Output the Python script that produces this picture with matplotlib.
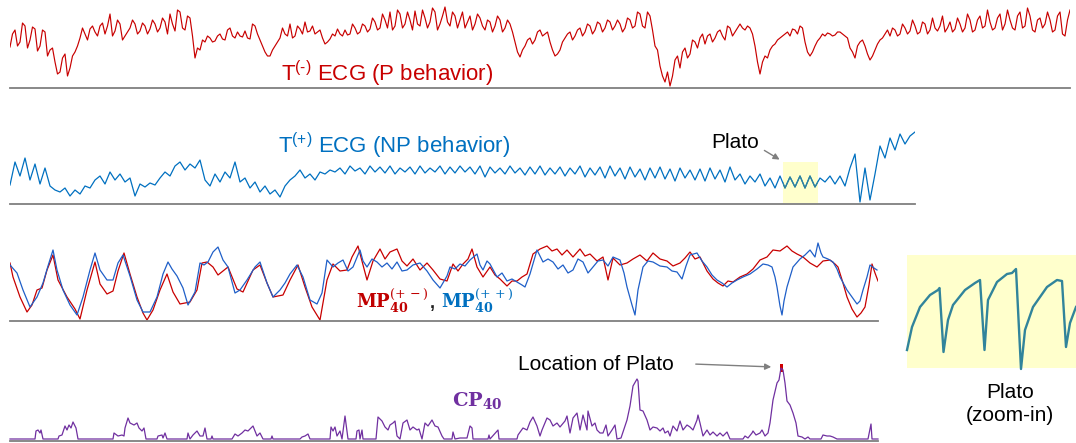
import numpy as np
import matplotlib
matplotlib.use('Agg')
import matplotlib.pyplot as plt
from matplotlib.patches import Rectangle

plt.rcParams['font.family'] = ['Liberation Sans', 'DejaVu Sans']
plt.rcParams['mathtext.fontset'] = 'custom'
plt.rcParams['mathtext.rm'] = 'Liberation Sans'
plt.rcParams['mathtext.it'] = 'Liberation Sans:italic'
plt.rcParams['mathtext.bf'] = 'Liberation Sans:bold'

# T(-) ECG, P behavior (uniform samples)
ecg_neg = [
    39, 52, 56, 40, 44, 63, 60, 38, 46, 59, 57, 35, 40, 56, 54, 30, 36, 38, 24, 12,
    14, 28, 32, 10, 18, 30, 34, 40, 48, 58, 52, 46, 57, 60, 54, 50, 60, 63, 52, 60,
    72, 50, 55, 66, 62, 46, 50, 54, 58, 66, 62, 52, 55, 63, 60, 52, 57, 66, 62, 54,
    58, 68, 64, 52, 72, 62, 55, 76, 74, 58, 56, 70, 68, 50, 28, 38, 36, 46, 44, 50,
    48, 44, 45, 50, 52, 47, 46, 56, 58, 50, 48, 54, 50, 49, 55, 48, 47, 62, 60, 52,
    46, 40, 34, 30, 30, 36, 40, 44, 48, 58, 52, 50, 62, 48, 50, 60, 57, 52, 64, 54,
    55, 60, 52, 54, 56, 48, 42, 44, 47, 52, 50, 57, 52, 50, 56, 51, 52, 62, 58, 52,
    54, 62, 60, 54, 57, 68, 64, 56, 58, 72, 66, 58, 74, 56, 60, 76, 72, 58, 62, 74,
    66, 56, 75, 62, 60, 76, 68, 58, 64, 78, 74, 56, 62, 70, 79, 64, 60, 74, 70, 58,
    66, 74, 58, 64, 70, 56, 62, 72, 68, 60, 56, 66, 64, 54, 60, 70, 66, 54, 58, 66,
    62, 54, 44, 34, 29, 36, 40, 46, 48, 42, 46, 54, 56, 50, 52, 54, 44, 36, 30, 32,
    36, 44, 48, 52, 54, 46, 50, 56, 58, 50, 54, 62, 60, 52, 56, 64, 62, 54, 58, 66,
    64, 56, 60, 66, 62, 54, 58, 68, 66, 58, 60, 74, 72, 60, 58, 74, 70, 56, 40, 36,
    20, 10, 4, 14, 0, 10, 26, 30, 18, 34, 38, 28, 32, 46, 44, 38, 48, 52, 42, 50,
    52, 44, 48, 54, 56, 50, 46, 60, 58, 50, 54, 58, 62, 58, 56, 60, 58, 52, 40, 24,
    12, 24, 30, 28, 36, 40, 42, 46, 48, 50, 52, 54, 50, 57, 56, 52, 60, 58, 44, 34,
    30, 34, 40, 45, 48, 52, 50, 53, 52, 50, 51, 54, 54, 52, 50, 48, 38, 34, 28, 40,
    44, 46, 40, 32, 26, 30, 36, 42, 46, 48, 52, 56, 50, 58, 56, 50, 52, 62, 58, 52,
    55, 66, 60, 52, 54, 64, 62, 52, 56, 68, 58, 55, 60, 70, 54, 58, 64, 54, 57, 68,
    62, 54, 58, 72, 66, 54, 56, 66, 70, 58, 60, 76, 64, 56, 58, 68, 72, 56, 62, 76,
    66, 58, 56, 70, 74, 58, 60, 78, 70, 56, 54, 66, 68, 58, 62, 74, 66, 54, 56, 70,
    74, 52, 50, 66, 76]

# T(+) ECG, NP behavior (uniform samples)
ecg_pos = [
    19, 42, 28, 46, 24, 40, 20, 36, 18, 14,
    12, 16, 8, 14, 10, 18, 16, 24, 28, 20,
    32, 24, 30, 22, 26, 8, 20, 17, 21, 19,
    26, 32, 28, 38, 42, 34, 40, 36, 44, 24,
    18, 30, 22, 32, 26, 42, 22, 26, 16, 22,
    12, 18, 10, 14, 7, 18, 24, 28, 34, 26,
    30, 24, 32, 30, 34, 32, 36, 30, 38, 33,
    36, 30, 38, 32, 37, 31, 38, 30, 36, 32,
    37, 30, 38, 31, 36, 32, 38, 30, 37, 31,
    38, 32, 37, 30, 38, 27, 37, 31, 36, 30,
    38, 31, 36, 29, 37, 30, 38, 29, 36, 30,
    37, 28, 36, 30, 38, 27, 36, 29, 37, 26,
    38, 28, 36, 25, 37, 27, 35, 24, 36, 26,
    37, 25, 35, 23, 36, 26, 34, 24, 35, 23,
    36, 25, 34, 22, 37, 24, 30, 20, 28, 22,
    30, 18, 26, 16, 28, 16, 27, 17, 28, 16,
    28, 17, 26, 22, 28, 20, 28, 18, 36, 50,
    2, 36, 4, 30, 58, 46, 66, 54, 70, 60,
    68, 72]
plato_span = (154.6, 161.6)   # sample range of the plato in ecg_pos

# MP40 (+-) and (++) : (time, value)
mp_red = [
    (10, 58), (13, 44), (20, 24), (27, 9), (32, 16), (37, 31), (42, 33), (47, 51), (53, 66), (58, 41),
    (67, 24), (75, 12), (80, 2), (87, 31), (95, 59), (100, 37), (107, 27), (113, 30), (118, 50), (124, 68),
    (130, 47), (137, 24), (143, 8), (147, 1), (153, 11), (160, 31), (167, 47), (173, 29), (180, 17), (190, 19),
    (197, 31), (202, 58), (207, 59), (213, 54), (218, 46), (223, 50), (228, 54), (237, 32), (243, 29), (248, 40),
    (253, 51), (260, 56), (267, 38), (273, 24), (283, 26), (290, 41), (298, 56), (305, 34), (312, 14), (320, 1),
    (327, 41), (333, 57), (340, 50), (347, 51), (352, 64), (358, 75), (362, 60), (367, 41), (373, 60), (380, 72),
    (385, 62), (390, 69), (397, 72), (402, 60), (407, 55), (413, 62), (420, 51), (427, 58), (433, 51), (440, 42),
    (447, 40), (453, 57), (458, 50), (463, 57), (468, 62), (472, 72), (477, 54), (483, 44), (490, 54), (495, 46),
    (500, 42), (507, 35), (512, 40), (517, 40), (522, 44), (527, 47), (533, 67), (540, 72), (547, 75), (552, 70),
    (557, 72), (562, 66), (567, 71), (573, 64), (580, 72), (585, 65), (590, 67), (597, 60), (603, 64), (608, 41),
    (613, 63), (620, 56), (627, 58), (633, 62), (640, 66), (647, 60), (653, 68), (660, 62), (667, 60), (673, 55),
    (680, 58), (685, 63), (690, 69), (695, 62), (700, 64), (707, 50), (713, 42), (718, 38), (723, 35), (728, 40),
    (733, 39), (740, 44), (747, 47), (753, 52), (760, 61), (767, 64), (773, 71), (780, 70), (787, 75), (792, 70),
    (797, 67), (803, 64), (810, 58), (817, 54), (823, 60), (830, 61), (835, 57), (838, 54), (843, 38), (847, 24),
    (852, 12), (857, 4), (861, 8), (865, 14), (869, 36), (872, 57), (875, 48), (878, 40)]

mp_blue = [
    (10, 56), (17, 48), (23, 31), (30, 14), (37, 24), (43, 38), (48, 55), (53, 71), (57, 51), (63, 31),
    (70, 16), (77, 6), (83, 24), (90, 51), (95, 68), (100, 51), (107, 41), (113, 41), (118, 58), (123, 66),
    (130, 45), (137, 21), (143, 9), (150, 9), (157, 24), (163, 47), (168, 59), (172, 52), (177, 45), (183, 33),
    (188, 16), (195, 29), (200, 58), (204, 56), (208, 59), (213, 69), (218, 74), (223, 61), (228, 54), (235, 28),
    (240, 31), (247, 41), (255, 54), (260, 59), (267, 38), (273, 24), (280, 31), (285, 38), (290, 47), (297, 56),
    (303, 44), (310, 21), (317, 17), (322, 28), (327, 61), (333, 54), (338, 58), (343, 61), (348, 50), (353, 54),
    (360, 71), (363, 60), (367, 54), (372, 62), (377, 59), (382, 54), (387, 58), (392, 52), (397, 59), (402, 50),
    (407, 51), (413, 56), (420, 58), (427, 50), (433, 41), (440, 33), (447, 45), (450, 54), (455, 52), (460, 57),
    (465, 55), (470, 61), (477, 67), (480, 56), (483, 51), (487, 60), (490, 57), (497, 44), (502, 48), (507, 40),
    (512, 42), (517, 39), (522, 36), (525, 34), (530, 47), (537, 71), (543, 59), (548, 62), (553, 59), (558, 52),
    (563, 56), (568, 48), (573, 51), (578, 62), (583, 59), (588, 48), (593, 54), (598, 60), (603, 61), (608, 55),
    (613, 64), (620, 61), (624, 48), (627, 34), (632, 16), (635, 6), (638, 31), (643, 54), (648, 60), (653, 59),
    (660, 55), (667, 54), (672, 50), (677, 49), (682, 42), (686, 55), (690, 66), (697, 68), (702, 60), (707, 54),
    (712, 46), (717, 41), (722, 38), (727, 34), (732, 38), (737, 41), (743, 44), (750, 47), (757, 52), (763, 57),
    (768, 56), (772, 54), (775, 44), (777, 34), (780, 15), (782, 6), (784, 20), (787, 34), (793, 54), (800, 62),
    (805, 66), (810, 71), (815, 64), (818, 78), (821, 68), (823, 64), (828, 62), (833, 59), (837, 52), (840, 44),
    (847, 31), (852, 24), (857, 17), (860, 20), (863, 31), (867, 44), (870, 56), (874, 53), (877, 51)]

# CP40 : (time, value)
cp = [
    (10, 0), (35, 0), (36, 8), (38, 9), (40, 6), (41, 9), (43, 0),
    (58, 0), (59, 3), (62, 4), (65, 13), (67, 9), (69, 14), (71, 11), (73, 17), (76, 11), (78, 0),
    (113, 0), (114, 6), (118, 3), (122, 4), (124, 3), (125, 11), (128, 21), (130, 16), (132, 15),
    (134, 14), (137, 16), (139, 11), (142, 8), (144, 11), (146, 0),
    (157, 0), (158, 3), (162, 4), (163, 1), (165, 6), (167, 0),
    (187, 0), (188, 6), (190, 0), (193, 4), (197, 8), (200, 3), (203, 3), (205, 11), (207, 0),
    (211, 0), (212, 3), (213, 0),
    (232, 0), (235, 5), (238, 3), (242, 6), (245, 9), (248, 8), (251, 11), (253, 13), (255, 8),
    (257, 3), (260, 6), (263, 0), (271, 0), (272, 3), (273, 0),
    (300, 0), (302, 2), (305, 3), (308, 5), (310, 0),
    (330, 0), (331, 12), (333, 8), (335, 12), (337, 3), (340, 8), (342, 0), (345, 23), (348, 0),
    (356, 0), (357, 8), (359, 9), (360, 0), (362, 9), (363, 0),
    (376, 0), (378, 22), (382, 18), (385, 12), (388, 9), (390, 14), (393, 16), (395, 18), (397, 3),
    (400, 0), (403, 16), (407, 19), (410, 9), (413, 12), (417, 9), (419, 10), (422, 0),
    (425, 16), (428, 13), (432, 19), (435, 13), (438, 12), (442, 3), (444, 0),
    (452, 0), (453, 7), (455, 0), (460, 1), (467, 1), (470, 13), (472, 11), (473, 0),
    (488, 0), (489, 4), (490, 0), (498, 9), (499, 0),
    (517, 0), (518, 4), (523, 11), (527, 9), (530, 17), (533, 22), (537, 13), (540, 3), (542, 9),
    (547, 21), (550, 19), (553, 13), (557, 16), (560, 12), (565, 18), (567, 23), (570, 6), (573, 21),
    (577, 26), (580, 9), (583, 24), (587, 9), (588, 28), (592, 13), (595, 16), (597, 9), (600, 6),
    (603, 6), (606, 14), (608, 3), (612, 9), (615, 14), (617, 0),
    (621, 1), (627, 19), (630, 33), (633, 53), (637, 60), (638, 58), (640, 29), (643, 28), (647, 19),
    (650, 9), (653, 12), (657, 11), (660, 8), (663, 11), (665, 6), (668, 8), (670, 3), (673, 13),
    (677, 8), (680, 18), (683, 9), (687, 14), (690, 12), (693, 9), (697, 19), (698, 24), (700, 16),
    (703, 3), (707, 9), (710, 4), (713, 7), (717, 3), (720, 6), (723, 3), (727, 7), (730, 0),
    (743, 0), (745, 3), (748, 1), (752, 6), (753, 8), (756, 4), (760, 6), (762, 9), (765, 3), (768, 6),
    (770, 16), (773, 39), (777, 56), (779, 59), (781, 71), (783, 69), (785, 56), (787, 38), (790, 34),
    (793, 26), (796, 16), (798, 3), (802, 2), (805, 0), (808, 2), (810, 0),
    (821, 0), (823, 4), (827, 3), (830, 3), (833, 2), (837, 0),
    (868, 0), (871, 15), (872, 0), (878, 0)]
plato_loc = 781

# plato close-up
zoom_t = [0, 5, 13, 23, 31, 32.5, 36.5, 41, 46, 58, 68, 73, 77.5,
          81, 90, 100, 105, 109, 114, 118, 126, 140, 150, 155, 159, 163, 169]
zoom_v = [18, 41, 61, 73, 78, 80, 16, 48, 63, 78, 85, 88, 18,
          68, 86, 94, 95, 99, -1, 38, 61, 81, 88, 87, 21, 45, 61]

RED = '#C80000'
BLUE = '#0070C0'
MP_BLUE = '#1F5FC8'
PURPLE = '#7030A0'
TEAL = '#31849B'
GRAY = '#7F7F7F'
YELLOW = '#FFFFCC'

W, H = 1076, 443
fig = plt.figure(figsize=(W / 100, H / 100), dpi=100)


def panel(x0, y0, x1, y1):
    ax = fig.add_axes([x0 / W, 1 - y1 / H, (x1 - x0) / W, (y1 - y0) / H])
    ax.axis('off')
    return ax


# T(-) ECG
ax1 = panel(10, 3, 1070, 88)
ax1.plot(np.arange(len(ecg_neg)), ecg_neg, color=RED, lw=0.85)
ax1.set_xlim(0, len(ecg_neg) - 1)
ax1.set_ylim(-2, 83)
ax1.axhline(-2, color=GRAY, lw=1.3, clip_on=False)

# T(+) ECG
ax2 = panel(10, 120, 915, 204)
box = Rectangle((plato_span[0], 1), plato_span[1] - plato_span[0], 41,
                facecolor=YELLOW, edgecolor='none', zorder=0)
ax2.add_patch(box)
t2 = np.arange(len(ecg_pos))
ax2.plot(t2, ecg_pos, color=BLUE, lw=0.9, zorder=2)
hl, = ax2.plot(t2, ecg_pos, color=TEAL, lw=0.9, zorder=3)
hl.set_clip_path(box)
ax2.set_xlim(0, len(ecg_pos) - 1)
ax2.set_ylim(0, 84)
ax2.axhline(0, color=GRAY, lw=1.3, clip_on=False)

# MP40
ax3 = panel(10, 238, 878, 321)
t, v = zip(*mp_red)
ax3.plot(t, v, color=RED, lw=0.9)
t, v = zip(*mp_blue)
ax3.plot(t, v, color=MP_BLUE, lw=0.9)
ax3.set_xlim(10, 878)
ax3.set_ylim(0, 83)
ax3.axhline(0, color=GRAY, lw=1.3, clip_on=False)

# CP40
ax4 = panel(10, 355, 878, 439)
t, v = zip(*cp)
ax4.plot(t, v, color=PURPLE, lw=0.9, clip_on=False)
ax4.add_patch(Rectangle((plato_loc - 1.5, 67), 3.5, 8, facecolor='#D00000', edgecolor='none'))
ax4.set_xlim(10, 878)
ax4.set_ylim(0, 84)
ax4.axhline(-1.5, color=GRAY, lw=1.3, clip_on=False)

# plato zoom-in
ax5 = panel(907, 255, 1076, 368)
ax5.add_patch(Rectangle((0, 0), 1, 1, transform=ax5.transAxes, facecolor=YELLOW,
                        edgecolor='none', zorder=0))
ax5.plot(zoom_t, zoom_v, color=TEAL, lw=1.7, clip_on=False)
ax5.set_xlim(0, 169)
ax5.set_ylim(0, 113)

# text overlay in pixel coordinates
ov = fig.add_axes([0, 0, 1, 1])
ov.set_xlim(0, W)
ov.set_ylim(H, 0)
ov.axis('off')

ov.text(281, 81, r'T$^{\text{(-)}}$ ECG (P behavior)', color=RED, fontsize=16, va='baseline')
ov.text(278, 153, r'T$^{\text{(+)}}$ ECG (NP behavior)', color=BLUE, fontsize=16, va='baseline')
ov.text(735, 142, 'Plato', fontsize=15, ha='center', va='center')
ov.annotate('', xy=(782, 161), xytext=(762, 149),
            arrowprops=dict(arrowstyle='-|>', color=GRAY, lw=1, mutation_scale=9))

ov.text(356, 308, r'$\mathbf{MP}_{\mathbf{40}}^{(+\,-)}$', color='#C00000', fontsize=13,
        va='baseline', math_fontfamily='dejavuserif')
ov.text(430, 308, ',', color='#202020', fontsize=13, va='baseline', fontweight='bold')
ov.text(441, 308, r'$\mathbf{MP}_{\mathbf{40}}^{(+\,+)}$', color=BLUE, fontsize=13,
        va='baseline', math_fontfamily='dejavuserif')

ov.text(452, 406, r'$\mathbf{CP}_{\mathbf{40}}$', color=PURPLE, fontsize=14,
        va='baseline', math_fontfamily='dejavuserif')
ov.text(518, 365, 'Location of Plato', fontsize=15, va='center')
ov.annotate('', xy=(774, 367), xytext=(693, 364),
            arrowprops=dict(arrowstyle='-|>', color=GRAY, lw=1, mutation_scale=9))

ov.text(1010, 404, 'Plato\n(zoom-in)', fontsize=15, ha='center', va='center', linespacing=1.3)

fig.savefig('out.png', dpi=100)
